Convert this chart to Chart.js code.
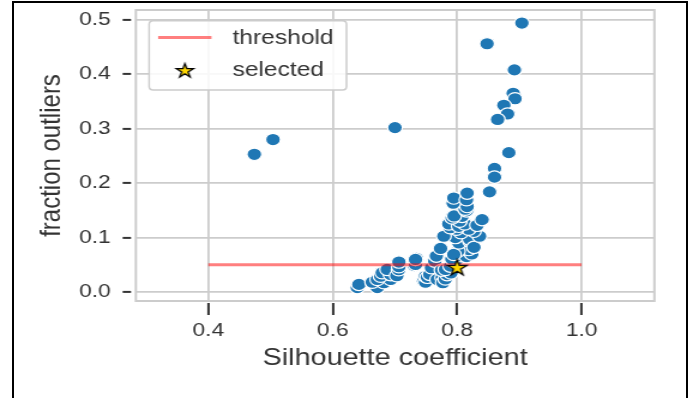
<!DOCTYPE html>
<html><head><meta charset="utf-8">
<script src="https://cdn.jsdelivr.net/npm/chart.js@4"></script>
<style>
html,body{margin:0;padding:0;background:#fff;width:693px;height:398px;overflow:hidden;}
#wrap{position:absolute;left:0;top:0;width:578px;height:398px;transform:scaleX(1.19896);transform-origin:0 0;}
#frame{position:absolute;left:12px;top:1px;width:672px;height:420px;border:2px solid #000;border-bottom:none;pointer-events:none;}
</style></head>
<body>
<div id="wrap"><canvas id="c" width="578" height="398" style="width:578px;height:398px"></canvas></div>
<div id="frame"></div>
<script>
// ---- data ----
const SIL_X = [
  0.474,0.504,0.700,0.848,0.904,0.892,0.890,0.893,0.875,0.881,0.865,0.883,0.860,0.860,0.852,
  0.6395,0.642,0.6716,0.6635,0.6822,0.6716,0.693,0.677,0.6796,0.693,0.6876,0.703,0.706,0.7063,0.7063,
  0.731,0.733,0.7345,0.733,0.746,0.749,0.749,0.752,0.756,0.7587,0.7679,0.776,0.777,0.781,0.784,0.764,
  0.7665,0.79,0.775,0.7812,0.789,0.795,0.80,0.7915,0.806,0.815,0.8235,0.81,0.826,0.8186,0.801,0.7945,
  0.7733,0.8026,0.821,0.797,0.7785,0.833,0.82,0.827,0.836,0.8267,0.806,0.8185,0.7986,0.789,0.7865,
  0.8026,0.812,0.804,0.792,0.808,0.795,0.832,0.840,0.815,0.8128,0.816,0.7936,0.7945,0.815,0.816
];
const FRAC_Y = [
  0.253,0.280,0.302,0.456,0.494,0.408,0.365,0.355,0.343,0.327,0.317,0.256,0.227,0.211,0.184,
  0.008,0.014,0.008,0.018,0.017,0.023,0.023,0.029,0.0355,0.032,0.0415,0.030,0.041,0.0464,0.055,
  0.0486,0.0506,0.062,0.0598,0.020,0.018,0.029,0.027,0.0324,0.0446,0.023,0.026,0.017,0.024,0.032,0.0567,
  0.066,0.035,0.040,0.0415,0.0475,0.055,0.060,0.0607,0.0668,0.065,0.0699,0.085,0.088,0.078,0.075,0.069,
  0.080,0.090,0.093,0.100,0.1024,0.100,0.097,0.082,0.1024,0.1115,0.109,0.1154,0.1154,0.118,0.125,
  0.1207,0.125,0.130,0.136,0.139,0.1397,0.1225,0.133,0.149,0.152,0.157,0.163,0.1726,0.1695,0.1817
];
const SELECTED_X = [0.80];
const SELECTED_Y = [0.044];
const THRESH_X = [0.4, 1.0];
const THRESH_Y = 0.05;
const X_TICKS = [0.4, 0.6, 0.8, 1.0];
const Y_TICKS = [0.0, 0.1, 0.2, 0.3, 0.4, 0.5];
const LEGEND_LABELS = ['threshold', 'selected'];
const X_TITLE = 'Silhouette coefficient';
const Y_TITLE = 'fraction outliers';

// ---- styles ----
const FONT = '"Liberation Sans", Arial, Helvetica, sans-serif';
const TXT = '#333333';
const GRID = '#cccccc';
const LINE_COLOR = 'rgba(255,0,0,0.5)';

function makeStar(R, lw) {
  const size = Math.ceil(2 * R + 2 * lw + 2);
  const cv = document.createElement('canvas');
  cv.width = size; cv.height = size;
  const g = cv.getContext('2d');
  const cx = size / 2, cy = size / 2;
  g.beginPath();
  for (let i = 0; i < 10; i++) {
    const r = i % 2 === 0 ? R : R * 0.382;
    const a = -Math.PI / 2 + i * Math.PI / 5;
    const px = cx + r * Math.cos(a), py = cy + r * Math.sin(a);
    if (i === 0) g.moveTo(px, py); else g.lineTo(px, py);
  }
  g.closePath();
  g.fillStyle = '#ffd700'; g.fill();
  g.lineWidth = lw; g.strokeStyle = '#000'; g.lineJoin = 'miter'; g.stroke();
  return cv;
}
const starImg = makeStar(8.4, 1.3);
const starLegend = makeStar(7.4, 1.3);

const extras = {
  id: 'extras',
  beforeDatasetsDraw(chart) {
    const {ctx, chartArea: a} = chart;
    ctx.save();
    ctx.strokeStyle = GRID; ctx.lineWidth = 2;
    ctx.strokeRect(a.left, a.top, a.right - a.left, a.bottom - a.top);
    ctx.restore();
  },
  afterDatasetsDraw(chart) {
    const ctx = chart.ctx;
    const L = 124.4, T = 20.7, R = 289, B = 90, rad = 3.5;
    ctx.save();
    ctx.beginPath();
    ctx.moveTo(L + rad, T);
    ctx.lineTo(R - rad, T); ctx.quadraticCurveTo(R, T, R, T + rad);
    ctx.lineTo(R, B - rad); ctx.quadraticCurveTo(R, B, R - rad, B);
    ctx.lineTo(L + rad, B); ctx.quadraticCurveTo(L, B, L, B - rad);
    ctx.lineTo(L, T + rad); ctx.quadraticCurveTo(L, T, L + rad, T);
    ctx.closePath();
    ctx.fillStyle = 'rgba(255,255,255,0.85)'; ctx.fill();
    ctx.strokeStyle = GRID; ctx.lineWidth = 1.5; ctx.stroke();
    ctx.beginPath();
    ctx.moveTo(131.9, 37.5); ctx.lineTo(176.4, 37.5);
    ctx.strokeStyle = LINE_COLOR; ctx.lineWidth = 3; ctx.stroke();
    ctx.drawImage(starLegend, 154.2 - starLegend.width / 2, 71 - starLegend.height / 2);
    ctx.fillStyle = TXT;
    ctx.font = '20.5px ' + FONT;
    ctx.textBaseline = 'middle';
    ctx.textAlign = 'left';
    ctx.fillText(LEGEND_LABELS[0], 193.9, 38);
    ctx.fillText(LEGEND_LABELS[1], 193.9, 70);
    ctx.restore();
  }
};

function zeroPad(ax) { ax.paddingTop = 0; ax.paddingBottom = 0; ax.paddingLeft = 0; ax.paddingRight = 0; }

new Chart(document.getElementById('c'), {
  data: {
    datasets: [
      {
        type: 'scatter', label: 'points', order: 2,
        data: SIL_X.map((x, i) => ({x: x, y: FRAC_Y[i]})),
        backgroundColor: '#1f77b4', borderColor: '#ffffff', borderWidth: 1.2,
        pointRadius: 6.2, pointHoverRadius: 6.2
      },
      {
        type: 'line', label: LEGEND_LABELS[0], order: 1,
        data: THRESH_X.map(x => ({x: x, y: THRESH_Y})),
        borderColor: LINE_COLOR, borderWidth: 3, pointRadius: 0, fill: false, tension: 0
      },
      {
        type: 'scatter', label: LEGEND_LABELS[1], order: 0,
        data: SELECTED_X.map((x, i) => ({x: x, y: SELECTED_Y[i]})),
        pointStyle: starImg, pointRadius: 8, pointHoverRadius: 8
      }
    ]
  },
  options: {
    responsive: false, animation: false, events: [],
    layout: {padding: {left: 0, top: 10, right: 32.2, bottom: 0}},
    plugins: {legend: {display: false}, tooltip: {enabled: false}},
    scales: {
      x: {
        type: 'linear', min: 0.2835, max: 1.117,
        afterBuildTicks: (ax) => { ax.ticks = X_TICKS.map(v => ({value: v})); },
        afterFit: (ax) => { ax.height = 97; zeroPad(ax); },
        border: {display: false},
        grid: {color: GRID, lineWidth: 1.8, tickLength: 14, tickColor: TXT, tickWidth: 2, tickBorderDash: [0, 2, 12, 40]},
        ticks: {color: TXT, font: {family: FONT, size: 19}, padding: 4, maxRotation: 0, callback: v => Number(v).toFixed(1)},
        title: {display: true, text: X_TITLE, color: TXT, font: {family: FONT, size: 24}, padding: {top: 0, bottom: 25.6}}
      },
      y: {
        type: 'linear', min: -0.0165, max: 0.518,
        afterBuildTicks: (ax) => { ax.ticks = Y_TICKS.map(v => ({value: v})); },
        afterFit: (ax) => { ax.width = 113.3; zeroPad(ax); },
        border: {display: false},
        grid: {color: GRID, lineWidth: 1.8, tickLength: 11, tickColor: TXT, tickWidth: 2, tickBorderDash: [7, 40]},
        ticks: {color: TXT, font: {family: FONT, size: 19}, padding: 10, callback: v => Number(v).toFixed(1)},
        title: {display: true, text: Y_TITLE, color: TXT, font: {family: FONT, size: 24}, padding: {top: 28.9, bottom: 0}}
      }
    }
  },
  plugins: [extras]
});
</script>
</body></html>
